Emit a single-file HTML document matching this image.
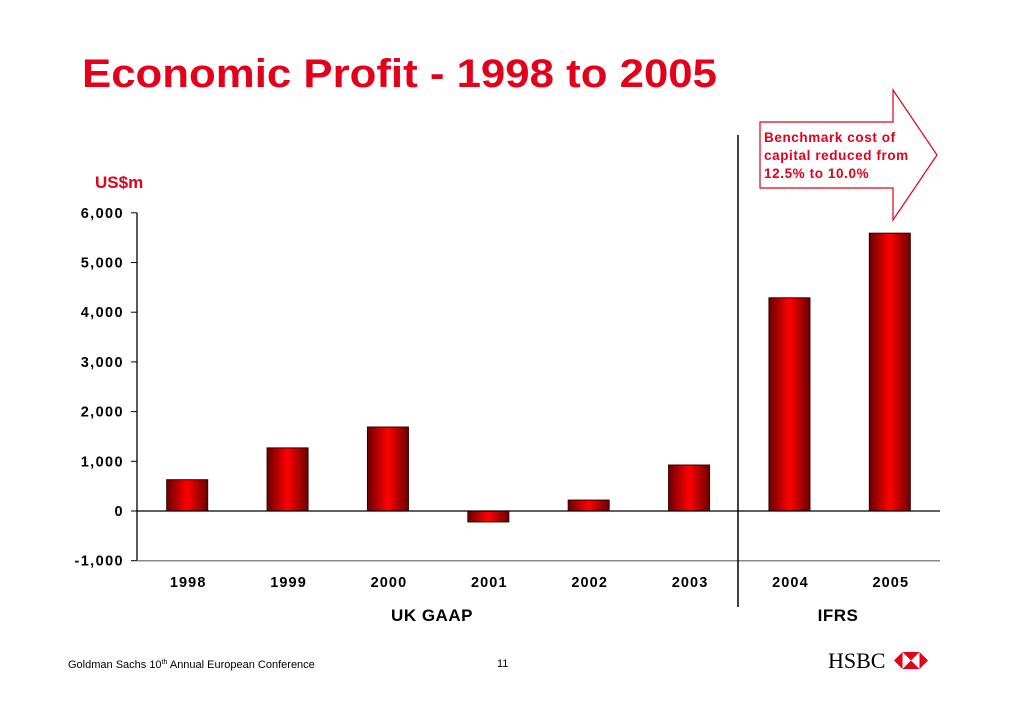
<!DOCTYPE html>
<html><head><meta charset="utf-8"><style>
body{margin:0;background:#fff;width:1030px;height:728px;overflow:hidden;font-family:"Liberation Sans",Arial,sans-serif}
</style></head><body>
<svg width="1030" height="728" style="position:absolute;left:0;top:0">
<defs><linearGradient id="g" x1="0" x2="1" y1="0" y2="0">
<stop offset="0" stop-color="#6a0000"/><stop offset="0.5" stop-color="#ff0000"/><stop offset="1" stop-color="#6a0000"/></linearGradient></defs>
<text x="82" y="87" font-size="40" font-weight="bold" fill="#e3001b" textLength="635" lengthAdjust="spacingAndGlyphs">Economic Profit - 1998 to 2005</text>
<text x="95" y="188" font-size="17" font-weight="bold" fill="#e3001b">US$m</text>
<polygon points="760,122 893,122 893,90 937,155 893,220 893,188 760,188" fill="#fff" stroke="#e3001b" stroke-width="1.2"/>
<text font-size="13.5" font-weight="bold" fill="#e3001b" letter-spacing="0.6"><tspan x="764" y="142">Benchmark cost of</tspan><tspan x="764" y="160">capital reduced from</tspan><tspan x="764" y="178">12.5% to 10.0%</tspan></text>
<g id="plot"></g>
<line x1="738" y1="135" x2="738" y2="607" stroke="#000" stroke-width="1.5"/>
<text x="432" y="621" text-anchor="middle" font-size="17" font-weight="bold" letter-spacing="0.5">UK GAAP</text>
<text x="838" y="621" text-anchor="middle" font-size="17" font-weight="bold" letter-spacing="0.5">IFRS</text>
<text x="68" y="668" font-size="11">Goldman Sachs 10<tspan font-size="7" dy="-4">th</tspan><tspan dy="4"> Annual European Conference</tspan></text>
<text x="497" y="667" font-size="11">11</text>
<text x="828" y="668" font-family="Liberation Serif,serif" font-size="22">HSBC</text>
<g transform="translate(894,652)">
<polygon points="0,8.5 8.5,0 25.5,0 34,8.5 25.5,17 8.5,17" fill="#e3001b"/>
<rect x="8.5" y="0" width="17" height="17" fill="#fff"/>
<polygon points="8.5,0 25.5,0 17,8.5" fill="#e3001b"/><polygon points="8.5,17 25.5,17 17,8.5" fill="#e3001b"/>
</g>
</svg>
<script>
const categories=["1998","1999","2000","2001","2002","2003","2004","2005"];
const values=[630,1270,1690,-220,220,925,4290,5590];
const tickValues=[-1000,0,1000,2000,3000,4000,5000,6000];
const tickLabels=["-1,000","0","1,000","2,000","3,000","4,000","5,000","6,000"];
const NS="http://www.w3.org/2000/svg";
const g=document.getElementById('plot');
const x0=137,x1=940,yZero=511,pxPer=49.7/1000;
const y=v=>yZero-v*pxPer;
const step=(x1-x0)/categories.length;
const xc=i=>x0+step*(i+0.5);
function mk(t,a){const e=document.createElementNS(NS,t);for(const k in a)e.setAttribute(k,a[k]);g.appendChild(e);return e;}
let ax=mk('line',{x1:x0,y1:y(6000),x2:x0,y2:y(-1000),stroke:'#000','stroke-width':1.3});


tickValues.forEach((v,i)=>{
 let t=mk('line',{x1:x0-6,y1:y(v),x2:x0,y2:y(v),stroke:'#000'});
 
 
 let l=mk('text',{x:x0-13,y:y(v)+5,'text-anchor':'end','font-size':14.5,'font-weight':'bold','letter-spacing':1.4});
 l.textContent=tickLabels[i];
 
 
});
let bl=mk('line',{x1:x0,y1:y(-1000),x2:x1,y2:y(-1000),stroke:'#888','stroke-width':1.5});


categories.forEach((c,i)=>{
 const v=values[i],w=41;
 let r=mk('rect',{x:xc(i)-w/2,y:Math.min(y(v),yZero),width:w,height:Math.abs(y(v)-yZero),fill:'url(#g)',stroke:'#3a0000','stroke-width':1});
 
 
 let l=mk('text',{x:xc(i)+1,y:587,'text-anchor':'middle','font-size':14.5,'font-weight':'bold','letter-spacing':1.1});
 l.textContent=c;
 
 
});
let z=mk('line',{x1:x0,y1:yZero,x2:x1,y2:yZero,stroke:'#000','stroke-width':1.3});


</script>
</body></html>
